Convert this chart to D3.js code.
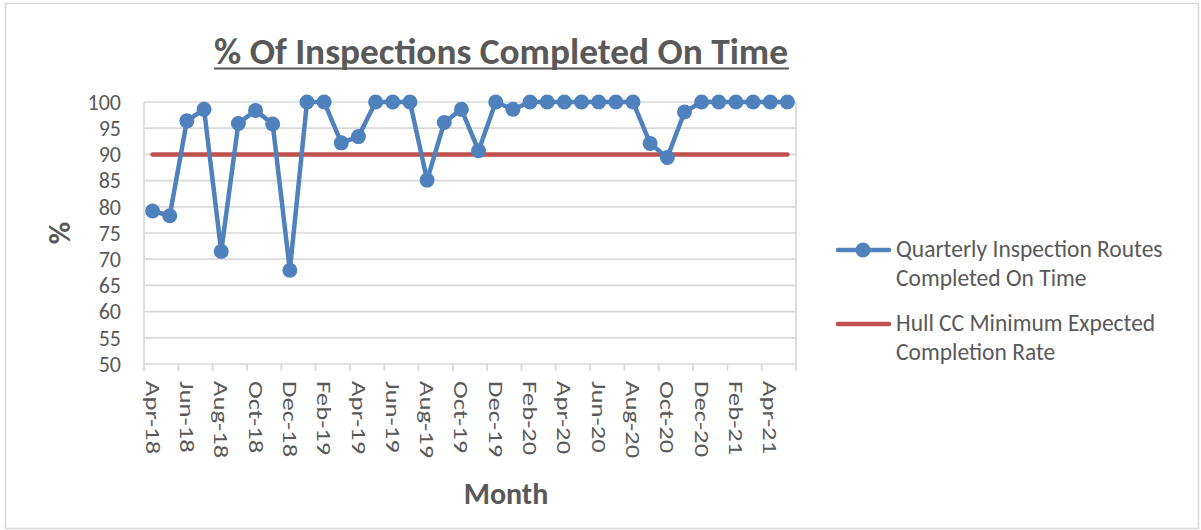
<!DOCTYPE html>
<html lang="en">
<head>
    <meta charset="UTF-8">
    <title>% Of Inspections Completed On Time</title>
    <script src="https://d3js.org/d3.v7.min.js"></script>
    <style>
        body {
            margin: 0;
            padding: 0;
            background: #fff;
        }
        svg text {
            font-family: Carlito, "Open Sans", "Noto Sans", Arial, sans-serif;
            fill: #595959;
        }
        .grid line {
            stroke: #d9d9d9;
            stroke-width: 1.7px;
        }
    </style>
</head>
<body>
    <svg id="chart" width="1201" height="530"></svg>

    <script>
        const months = ["Apr-18", "May-18", "Jun-18", "Jul-18", "Aug-18", "Sep-18", "Oct-18", "Nov-18", "Dec-18",
            "Jan-19", "Feb-19", "Mar-19", "Apr-19", "May-19", "Jun-19", "Jul-19", "Aug-19", "Sep-19", "Oct-19", "Nov-19", "Dec-19",
            "Jan-20", "Feb-20", "Mar-20", "Apr-20", "May-20", "Jun-20", "Jul-20", "Aug-20", "Sep-20", "Oct-20", "Nov-20", "Dec-20",
            "Jan-21", "Feb-21", "Mar-21", "Apr-21", "May-21"];

        const completed = [79.2, 78.3, 96.4, 98.6, 71.5, 95.9, 98.4, 95.8, 67.9,
            100, 100, 92.2, 93.4, 100, 100, 100, 85.1, 96.1, 98.6, 90.7, 100,
            98.6, 100, 100, 100, 100, 100, 100, 100, 92.1, 89.4, 98.1, 100,
            100, 100, 100, 100, 100];

        const minimumRate = months.map(() => 90);

        const yTicks = [50, 55, 60, 65, 70, 75, 80, 85, 90, 95, 100];

        const seriesNames = [
            ["Quarterly Inspection Routes", "Completed On Time"],
            ["Hull CC Minimum Expected", "Completion Rate"]
        ];

        const blue = "#4f81bd";
        const red = "#c0504d";

        const svg = d3.select("#chart");

        // outer chart border
        svg.append("rect")
            .attr("x", 5.5).attr("y", 3.5)
            .attr("width", 1193).attr("height", 525)
            .attr("fill", "#fff")
            .attr("stroke", "#d9d9d9")
            .attr("stroke-width", 1.5);

        const plot = { left: 144, right: 796, top: 102, bottom: 364 };

        const x = d3.scaleBand()
            .domain(months)
            .range([plot.left, plot.right]);
        const bw = x.bandwidth();
        const cx = m => x(m) + bw / 2;

        const y = d3.scaleLinear()
            .domain([50, 100])
            .range([plot.bottom, plot.top]);

        // horizontal gridlines
        svg.append("g").attr("class", "grid")
            .selectAll("line")
            .data(yTicks)
            .enter().append("line")
            .attr("x1", plot.left).attr("x2", plot.right)
            .attr("y1", d => y(d)).attr("y2", d => y(d));

        // left axis + right edge
        svg.append("g").attr("class", "grid")
            .selectAll("line")
            .data([plot.left, plot.right])
            .enter().append("line")
            .attr("x1", d => d).attr("x2", d => d)
            .attr("y1", plot.top).attr("y2", plot.bottom);

        // x tick marks every 2 months at band edges
        const tickEdges = months.filter((m, i) => i % 2 === 0).map(m => x(m)).concat([plot.right]);
        svg.append("g").attr("class", "grid")
            .selectAll("line")
            .data(tickEdges)
            .enter().append("line")
            .attr("x1", d => d).attr("x2", d => d)
            .attr("y1", plot.bottom).attr("y2", plot.bottom + 7);

        // y tick labels
        svg.append("g")
            .selectAll("text")
            .data(yTicks)
            .enter().append("text")
            .attr("x", 121)
            .attr("y", d => y(d))
            .attr("dy", "0.35em")
            .attr("text-anchor", "end")
            .style("font-size", "22px")
            .text(d => d);

        // x tick labels (rotated, stretched along the reading direction)
        svg.append("g")
            .selectAll("text")
            .data(months.filter((m, i) => i % 2 === 0))
            .enter().append("text")
            .attr("transform", d => `translate(${cx(d)},${plot.bottom + 17}) rotate(90) scale(1.27,1)`)
            .attr("dy", "0.33em")
            .attr("text-anchor", "start")
            .style("font-size", "21px")
            .text(d => d);

        // minimum line
        const line = d3.line()
            .x((d, i) => cx(months[i]))
            .y(d => y(d));

        svg.append("path")
            .datum(minimumRate)
            .attr("fill", "none")
            .attr("stroke", red)
            .attr("stroke-width", 4.5)
            .attr("stroke-linecap", "round")
            .attr("d", line);

        // completed series
        svg.append("path")
            .datum(completed)
            .attr("fill", "none")
            .attr("stroke", blue)
            .attr("stroke-width", 4.5)
            .attr("stroke-linejoin", "round")
            .attr("d", line);

        svg.append("g")
            .selectAll("circle")
            .data(completed)
            .enter().append("circle")
            .attr("cx", (d, i) => cx(months[i]))
            .attr("cy", d => y(d))
            .attr("r", 7.5)
            .attr("fill", blue);

        // title
        svg.append("text")
            .attr("x", 501)
            .attr("y", 64)
            .attr("text-anchor", "middle")
            .attr("textLength", 574)
            .attr("lengthAdjust", "spacingAndGlyphs")
            .style("font-size", "37px")
            .style("font-weight", "bold")
            .text("% Of Inspections Completed On Time");
        svg.append("line")
            .attr("x1", 214).attr("x2", 789)
            .attr("y1", 68.5).attr("y2", 68.5)
            .attr("stroke", "#595959")
            .attr("stroke-width", 2);

        // axis titles
        svg.append("text")
            .attr("transform", `translate(70,233) rotate(-90)`)
            .attr("text-anchor", "middle")
            .style("font-size", "31px")
            .style("font-weight", "bold")
            .text("%");

        svg.append("text")
            .attr("x", 506)
            .attr("y", 504)
            .attr("text-anchor", "middle")
            .style("font-size", "30px")
            .style("font-weight", "bold")
            .text("Month");

        // legend
        const legend = svg.append("g");
        const legendY = [250, 324];
        const legendColors = [blue, red];

        legendY.forEach((ly, i) => {
            legend.append("line")
                .attr("x1", 838).attr("x2", 889)
                .attr("y1", ly).attr("y2", ly)
                .attr("stroke", legendColors[i])
                .attr("stroke-width", 4.5)
                .attr("stroke-linecap", "round");
            if (i === 0) {
                legend.append("circle")
                    .attr("cx", 863).attr("cy", ly)
                    .attr("r", 7.5)
                    .attr("fill", blue);
            }
            seriesNames[i].forEach((t, j) => {
                legend.append("text")
                    .attr("x", 896)
                    .attr("y", ly + 7 + j * 28.5)
                    .style("font-size", "23.5px")
                    .text(t);
            });
        });
    </script>
</body>
</html>
